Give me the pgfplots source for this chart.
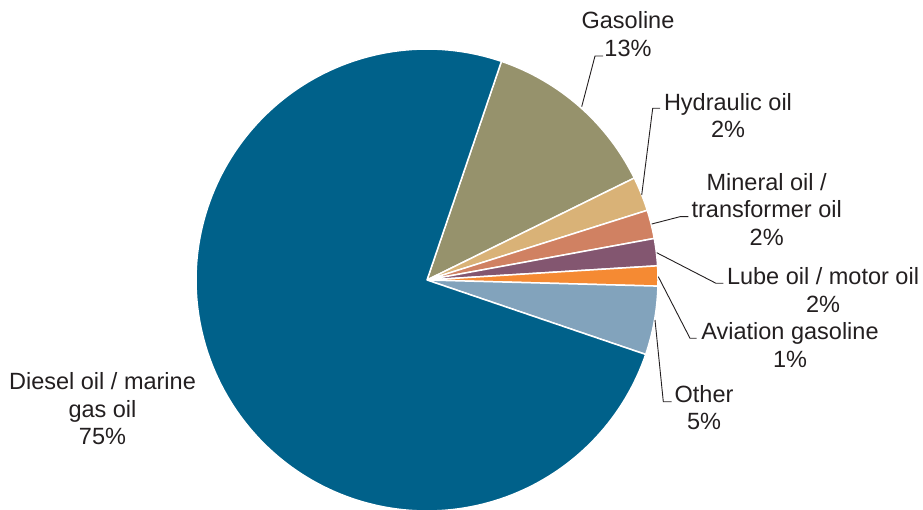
\documentclass[border=0pt]{standalone}
\usepackage{pgfplots}
\pgfplotsset{compat=1.18}
\usepackage{fontspec}
\setmainfont{Liberation Sans}
\definecolor{cDiesel}{HTML}{00618A}
\definecolor{cGas}{HTML}{96926C}
\definecolor{cHyd}{HTML}{D9B277}
\definecolor{cMin}{HTML}{D08162}
\definecolor{cLube}{HTML}{835670}
\definecolor{cAvi}{HTML}{F58A33}
\definecolor{cOther}{HTML}{82A3BC}
\definecolor{txt}{HTML}{231F20}
\tikzset{
  slice/.style={draw=white, line width=1.5pt, line join=round},
  lbl/.style={align=center, text=txt, font=\fontsize{23.5}{27.5}\selectfont, inner sep=0pt},
  lead/.style={draw=txt, line width=0.9pt},
}
% shares (percent), clockwise from the Gasoline slice
\def\pGas{12.5}\def\pHyd{2.4}\def\pMin{2.0}\def\pLube{1.9}\def\pAvi{1.4}\def\pOther{4.8}\def\pDiesel{75.0}
\pgfmathsetmacro\aA{71.2}
\pgfmathsetmacro\aB{\aA-3.6*\pGas}
\pgfmathsetmacro\aC{\aB-3.6*\pHyd}
\pgfmathsetmacro\aD{\aC-3.6*\pMin}
\pgfmathsetmacro\aE{\aD-3.6*\pLube}
\pgfmathsetmacro\aF{\aE-3.6*\pAvi}
\pgfmathsetmacro\aG{\aF-3.6*\pOther}
\pgfmathsetmacro\aH{\aG-3.6*\pDiesel}
\begin{document}
\begin{tikzpicture}
\begin{axis}[
  width=923pt, height=510pt, scale only axis,
  xmin=0, xmax=923, ymin=0, ymax=510, y dir=reverse,
  hide axis, clip=false,
]
\addplot[slice, fill=cGas, domain=\aB:\aA, samples=40] ({427+231*cos(x)},{280-231*sin(x)}) -- (axis cs:427,280) -- cycle;
\addplot[slice, fill=cHyd, domain=\aC:\aB, samples=15] ({427+231*cos(x)},{280-231*sin(x)}) -- (axis cs:427,280) -- cycle;
\addplot[slice, fill=cMin, domain=\aD:\aC, samples=15] ({427+231*cos(x)},{280-231*sin(x)}) -- (axis cs:427,280) -- cycle;
\addplot[slice, fill=cLube, domain=\aE:\aD, samples=15] ({427+231*cos(x)},{280-231*sin(x)}) -- (axis cs:427,280) -- cycle;
\addplot[slice, fill=cAvi, domain=\aF:\aE, samples=15] ({427+231*cos(x)},{280-231*sin(x)}) -- (axis cs:427,280) -- cycle;
\addplot[slice, fill=cOther, domain=\aG:\aF, samples=20] ({427+231*cos(x)},{280-231*sin(x)}) -- (axis cs:427,280) -- cycle;
\addplot[slice, fill=cDiesel, domain=\aH:\aG, samples=180] ({427+231*cos(x)},{280-231*sin(x)}) -- (axis cs:427,280) -- cycle;
% leader lines
\addplot[lead, mark=none] coordinates {(603,56) (595,56) (581.7,106.7)};
\addplot[lead, mark=none] coordinates {(660,108.3) (652.7,108.3) (641.7,195)};
\addplot[lead, mark=none] coordinates {(688.3,216.7) (680,216.7) (651.7,224)};
\addplot[lead, mark=none] coordinates {(723.3,283.3) (716,283.3) (656.7,252.7)};
\addplot[lead, mark=none] coordinates {(696.7,338.3) (690,338.3) (658.3,276.7)};
\addplot[lead, mark=none] coordinates {(671.7,401.7) (663.3,401.7) (655,320)};
% labels
\node[lbl] at (axis cs:628,34) {Gasoline\\13\%};
\node[lbl] at (axis cs:728,115.5) {Hydraulic oil\\2\%};
\node[lbl] at (axis cs:766.7,209.2) {Mineral oil /\\transformer oil\\2\%};
\node[lbl] at (axis cs:823,290) {Lube oil / motor oil\\2\%};
\node[lbl] at (axis cs:790,345) {Aviation gasoline\\1\%};
\node[lbl] at (axis cs:704,407.5) {Other\\5\%};
\node[lbl] at (axis cs:102.5,408.7) {Diesel oil / marine\\gas oil\\75\%};
\end{axis}
\pgfresetboundingbox
\path (current axis.south west) rectangle (current axis.north east);
\end{tikzpicture}
\end{document}
